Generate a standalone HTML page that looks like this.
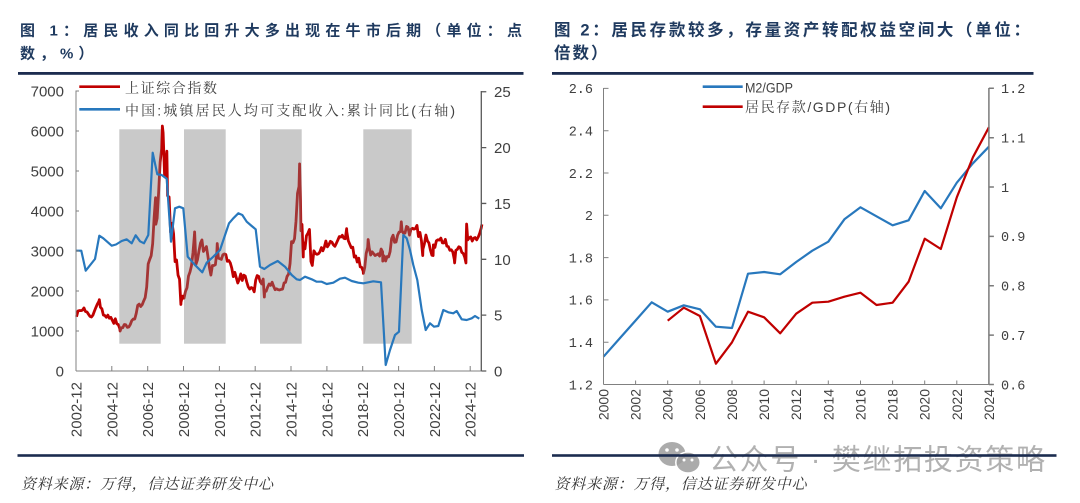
<!DOCTYPE html>
<html><head><meta charset="utf-8">
<style>
html,body{margin:0;padding:0;background:#fff;}
body{width:1080px;height:503px;overflow:hidden;}
svg{display:block;}
.num{font-family:"Liberation Sans",Arial,sans-serif;}
.cjk{font-family:"Liberation Sans","Noto Sans CJK SC",sans-serif;}
.song{font-family:"Liberation Sans","Noto Serif CJK SC",serif;}
</style></head>
<body>
<svg width="1080" height="503" viewBox="0 0 1080 503" xmlns="http://www.w3.org/2000/svg">
<rect width="1080" height="503" fill="#fff"/>

<!-- Titles -->
<g class="cjk" font-weight="700" fill="#1f3a5f" font-size="15">
<text x="20" y="35.5" textLength="502" lengthAdjust="spacing">图 1：居民收入同比回升大多出现在牛市后期（单位：点</text>
<text x="20" y="58.5" letter-spacing="5">数，%）</text>
</g>
<g class="cjk" font-weight="700" fill="#1f3a5f" font-size="16.5">
<text x="554" y="35.5" textLength="476" lengthAdjust="spacing">图 2：居民存款较多，存量资产转配权益空间大（单位：</text>
<text x="554" y="58.5" letter-spacing="2">倍数）</text>
</g>

<!-- top rules -->
<rect x="18" y="72" width="505.5" height="2.8" fill="#1c2c4f"/>
<rect x="552" y="72" width="481.5" height="2.8" fill="#1c2c4f"/>

<!-- ================= LEFT CHART ================= -->
<polyline fill="none" stroke="#c00000" stroke-width="2.8" stroke-linejoin="round" vector-effect="non-scaling-stroke"
 transform="translate(76.5,371) scale(1.4933,-0.04)"
 points="0,1357 1,1500 2,1511 3,1510 4,1521 5,1577 6,1487 7,1476 8,1421 9,1367 10,1349 11,1397 12,1497 13,1590 14,1675 15,1742 15.3,1783 16,1595 17,1555 18,1399 19,1386 20,1342 21,1396 22,1320 23,1341 24,1266 25,1191 26,1306 27,1181 28,1159 29,1060 29.2,998 30,1080 31,1083 32,1162 33,1155 34,1092 35,1099 36,1161 37,1258 38,1299 39,1298 40,1440 41,1641 42,1672 43,1612 44,1658 45,1752 46,1837 47,2099 48,2675 49,2786 50,2881 51,3183 52,3841 52.95,4335 53.15,3670 54,3820 55,4471 56,5218 57,5552 57.5,6124 58,5954 59,4871 60,5262 60.5,5497 61,4383 62,4348 63,3473 64,3693 65,3433 66,2736 67,2775 68,2397 69,2293 69.9,1664 70,1729 71,1871 72,1821 73,1991 74,2082 75,2373 76,2477 77,2633 78,2959 79,3412 79.1,3478 80,2667 81,2779 82,2996 83,3195 84,3277 85,2989 86,3051 87,3110 88,2871 89,2592 90,2398 91,2638 92,2638 93,2656 94,2979 94.25,3186 95,2820 96,2808 97,2791 98,2905 99,2928 100,2911 101,2743 102,2762 103,2701 104,2568 105,2359 106,2468 107,2333 108,2199 109,2292 110,2428 111,2263 112,2397 113,2373 114,2225 115,2103 116,2047 117,2086 118,2069 119,1980 120,2269 121,2385 122,2366 123,2237 124,2178 125,2300 125.8,1849 126,1979 127,1994 128,2098 129,2175 130,2141 131,2220 132,2116 133,2033 134,2056 135,2033 136,2026 137,2039 138,2048 139,2201 140,2217 141,2364 142,2420 143,2683 144,3235 145,3210 146,3310 147,3748 148,4442 149,4612 149.4,5178 150,4277 150.3,3507 151,3664 151.85,2850 152,3206 153,3053 154,3383 155,3445 156,3539 157,2738 157.9,2638 158,2688 159,3004 160,2938 161,2917 162,2930 163,2979 164,3085 165,3005 166,3100 167,3250 168,3104 169,3159 170,3242 171,3223 172,3155 173,3117 174,3192 175,3273 176,3361 177,3349 178,3393 179,3317 180,3307 180.9,3559 181,3481 182,3259 183,3169 184,3082 185,3095 186,2847 187,2876 188,2725 189,2821 190,2603 191,2588 192,2494 192.1,2440 193,2585 194,2941 195,3091 195.3,3288 196,3078 197,2899 198,2979 199,2932 200,2886 201,2905 202,2929 203,2872 204,3050 205,2977 205.1,2746 206,2880 207,2750 208,2860 209,2852 210,2985 211,3310 212,3396 213,3218 214,3225 215,3392 216,3473 217,3483 217.5,3731 218,3509 219,3442 220,3447 221,3615 222,3591 223,3397 224,3544 225,3568 226,3547 227,3564 228,3640 229,3361 230,3463 231,3252 231.85,2886 232,3047 233,3186 234,3399 235,3253 236,3202 237,3024 238,2893 238.8,2886 239,3151 240,3089 241,3256 242,3280 243,3273 244,3323 245,3205 246,3202 247,3291 248,3120 249,3110 250,3018 251,3030 252,2975 253,2789 253.2,2702 254,3015 255,3041 256,3105 257,3087 258,2967 259,2939 260,2842 260.8,2700 261,3336 261.25,3674 262,3279 263,3326 264,3352 265,3250 266,3320 267,3336 268,3279 269,3347 270,3444 271,3573 271.5,3666"/>

<g fill="#7f7f7f" fill-opacity="0.42">
<rect x="119.3" y="129.3" width="41.4" height="214.4"/>
<rect x="184" y="129.3" width="41.7" height="214.4"/>
<rect x="260" y="129.3" width="41.7" height="214.4"/>
<rect x="363.3" y="129.3" width="48.4" height="214.4"/>
</g>

<polyline fill="none" stroke="#2878bd" stroke-width="2.2" stroke-linejoin="round"
 points="76,250.7 81.3,250.7 85.7,270.7 95,259 99.3,235.7 103.3,238.3 111.7,245.7 116,244.5 121.7,241 126.7,239.3 131.7,243.3 135.7,235.3 140,241.3 144,243.3 148.3,235 152.7,152.7 157.3,174.3 161.7,175 166.7,178.7 171,241.7 175,208.3 179.3,206.7 183.3,208.3 187.7,256.7 195,265 202.3,272.3 206.7,262.7 213.3,256.7 220,250 229,223.3 233.3,218.3 238.3,213.3 242.3,215 246.7,221.7 251.7,226 255.7,229.3 260,266.7 264.3,269 270,265 277.7,261 285,266.7 291.7,275 296.7,279.3 300,280 305,276.7 311.7,279.3 316.7,281.7 321.7,281.7 326.7,284 333.3,282.7 340,278.7 345,277.7 351.7,281 358.3,282.7 363.3,283.3 368.3,282.3 373.3,281.3 381,282.3 385.7,365 390,350 395,335 399,331.7 403.3,235 406.7,238.3 410,250 413.3,265 417.3,280 421.7,310 425.7,330 430,323.3 434,326.7 438.3,326 443.3,310 448.3,312.3 453.3,313.3 456.7,311 461.7,319.3 466.7,320 471.7,318.3 475,316 479.3,318.7"/>

<g stroke="#808080" stroke-width="1" fill="none">
<line x1="76" y1="90.5" x2="76" y2="371"/>
<line x1="76" y1="371" x2="481.3" y2="371"/>
<path d="M76 91h3M76 131h3M76 171h3M76 211h3M76 251h3M76 291h3M76 331h3"/>
<path d="M111.8 371v-5M147.7 371v-5M183.5 371v-5M219.4 371v-5M255.2 371v-5M291 371v-5M326.9 371v-5M362.7 371v-5M398.6 371v-5M434.4 371v-5M470.2 371v-5"/>
</g>
<g stroke="#595959" stroke-width="1.3" fill="none">
<line x1="481.3" y1="91" x2="481.3" y2="371"/>
<path d="M481.3 91.75h5M481.3 147.6h5M481.3 203.45h5M481.3 259.3h5M481.3 315.15h5M481.3 371h5"/>
</g>

<g class="num" font-size="15" fill="#404040" text-anchor="end">
<text x="64" y="96.5">7000</text>
<text x="64" y="136.5">6000</text>
<text x="64" y="176.5">5000</text>
<text x="64" y="216.5">4000</text>
<text x="64" y="256.5">3000</text>
<text x="64" y="296.5">2000</text>
<text x="64" y="336.5">1000</text>
<text x="64" y="376.5">0</text>
</g>
<g class="num" font-size="15" fill="#404040">
<text x="494" y="97.2">25</text>
<text x="494" y="153.1">20</text>
<text x="494" y="209">15</text>
<text x="494" y="264.8">10</text>
<text x="494" y="320.6">5</text>
<text x="494" y="376.5">0</text>
</g>
<g class="num" font-size="15" fill="#404040" text-anchor="end">
<text transform="translate(81.5,382) rotate(-90)">2002-12</text>
<text transform="translate(117.3,382) rotate(-90)">2004-12</text>
<text transform="translate(153.2,382) rotate(-90)">2006-12</text>
<text transform="translate(189,382) rotate(-90)">2008-12</text>
<text transform="translate(224.9,382) rotate(-90)">2010-12</text>
<text transform="translate(260.7,382) rotate(-90)">2012-12</text>
<text transform="translate(296.5,382) rotate(-90)">2014-12</text>
<text transform="translate(332.4,382) rotate(-90)">2016-12</text>
<text transform="translate(368.2,382) rotate(-90)">2018-12</text>
<text transform="translate(404.1,382) rotate(-90)">2020-12</text>
<text transform="translate(439.9,382) rotate(-90)">2022-12</text>
<text transform="translate(475.7,382) rotate(-90)">2024-12</text>
</g>

<line x1="79.3" y1="86.7" x2="120" y2="86.7" stroke="#c00000" stroke-width="2.6"/>
<line x1="79.3" y1="109.3" x2="120" y2="109.3" stroke="#2878bd" stroke-width="2.6"/>
<g class="song" font-size="14" fill="#404040">
<text x="125" y="93" textLength="92" lengthAdjust="spacing">上证综合指数</text>
<text x="125" y="115.5" textLength="330" lengthAdjust="spacing">中国:城镇居民人均可支配收入:累计同比(右轴)</text>
</g>

<!-- ================= RIGHT CHART ================= -->
<polyline fill="none" stroke="#2878bd" stroke-width="2.2" stroke-linejoin="round"
 points="603.5,356.7 619.6,338.5 635.6,320.5 651.7,302.3 667.7,311.7 683.8,305.3 699.9,309.3 715.9,326.7 732,328 748,273.7 764.1,272 780.2,274.3 796.2,262 812.3,250.7 828.3,241.7 844.4,219.3 860.5,207.3 876.5,216.3 892.6,225.3 908.6,220.3 924.7,191 940.8,208.3 956.8,182.7 972.9,163.3 988.9,146.7"/>
<polyline fill="none" stroke="#c00000" stroke-width="2.2" stroke-linejoin="round"
 points="667.7,320.7 683.8,307.7 699.9,316 715.9,363.7 732,342.3 748,311.7 764.1,317.3 780.2,333.3 796.2,313.7 812.3,302.7 828.3,301.7 844.4,296.7 860.5,292.7 876.5,305 892.6,302.7 908.6,281.7 924.7,238.7 940.8,249 956.8,197.3 972.9,157.3 988.9,127.3"/>

<g stroke="#808080" stroke-width="1" fill="none">
<line x1="603.5" y1="88" x2="603.5" y2="384.5"/>
<line x1="603.5" y1="384.5" x2="988.9" y2="384.5"/>
<path d="M603.5 88.4h5M603.5 130.7h5M603.5 173h5M603.5 215.3h5M603.5 257.6h5M603.5 299.9h5M603.5 342.2h5"/>
<path d="M635.6 384.5v-4M667.7 384.5v-4M699.9 384.5v-4M732 384.5v-4M764.1 384.5v-4M796.2 384.5v-4M828.3 384.5v-4M860.5 384.5v-4M892.6 384.5v-4M924.7 384.5v-4M956.8 384.5v-4"/>
</g>
<g stroke="#7a7a7a" stroke-width="1.5" fill="none">
<line x1="988.9" y1="88" x2="988.9" y2="384.5"/>
<path d="M988.9 88.3h5M988.9 137.7h5M988.9 187h5M988.9 236.4h5M988.9 285.8h5M988.9 335.1h5M988.9 384.5h5"/>
</g>

<g font-family="'Liberation Mono',monospace" font-size="13.5" fill="#404040" text-anchor="end">
<text x="593" y="93.2">2.6</text>
<text x="593" y="135.5">2.4</text>
<text x="593" y="177.8">2.2</text>
<text x="593" y="220.1">2</text>
<text x="593" y="262.4">1.8</text>
<text x="593" y="304.7">1.6</text>
<text x="593" y="347">1.4</text>
<text x="593" y="389.3">1.2</text>
</g>
<g font-family="'Liberation Mono',monospace" font-size="13.5" fill="#404040">
<text x="1001" y="93.1">1.2</text>
<text x="1001" y="142.5">1.1</text>
<text x="1001" y="191.8">1</text>
<text x="1001" y="241.2">0.9</text>
<text x="1001" y="290.6">0.8</text>
<text x="1001" y="339.9">0.7</text>
<text x="1001" y="389.3">0.6</text>
</g>
<g class="num" font-size="14" fill="#404040" text-anchor="end">
<text transform="translate(608.5,389) rotate(-90)">2000</text>
<text transform="translate(640.6,389) rotate(-90)">2002</text>
<text transform="translate(672.7,389) rotate(-90)">2004</text>
<text transform="translate(704.9,389) rotate(-90)">2006</text>
<text transform="translate(737,389) rotate(-90)">2008</text>
<text transform="translate(769.1,389) rotate(-90)">2010</text>
<text transform="translate(801.2,389) rotate(-90)">2012</text>
<text transform="translate(833.3,389) rotate(-90)">2014</text>
<text transform="translate(865.5,389) rotate(-90)">2016</text>
<text transform="translate(897.6,389) rotate(-90)">2018</text>
<text transform="translate(929.7,389) rotate(-90)">2020</text>
<text transform="translate(961.8,389) rotate(-90)">2022</text>
<text transform="translate(993.9,389) rotate(-90)">2024</text>
</g>

<line x1="702.7" y1="86.7" x2="742.7" y2="86.7" stroke="#2878bd" stroke-width="2.6"/>
<line x1="702.7" y1="106.7" x2="742.7" y2="106.7" stroke="#c00000" stroke-width="2.6"/>
<g class="song" font-size="14" fill="#404040">
<text x="745" y="92.3" textLength="48" lengthAdjust="spacingAndGlyphs">M2/GDP</text>
<text x="745" y="112" textLength="145" lengthAdjust="spacing">居民存款/GDP(右轴)</text>
</g>

<!-- watermark -->
<g fill="#9c9c9c" fill-opacity="0.85">
<ellipse cx="672" cy="454" rx="13.5" ry="12"/>
<ellipse cx="688" cy="462.5" rx="12.2" ry="10.5" stroke="#fff" stroke-width="1.5"/>
</g>
<g fill="#fff">
<circle cx="667" cy="450" r="1.8"/><circle cx="677" cy="450" r="1.8"/>
<circle cx="684" cy="460" r="1.5"/><circle cx="692" cy="460" r="1.5"/>
</g>
<text x="709" y="469.5" class="cjk" font-size="29" fill="#a3a3a3" fill-opacity="0.85" textLength="336" lengthAdjust="spacing">公众号 · 樊继拓投资策略</text>

<rect x="17.5" y="454.2" width="506.5" height="2.6" fill="#1c2c4f"/>
<rect x="552" y="454.2" width="504.5" height="2.6" fill="#1c2c4f"/>

<g class="song" font-size="15" fill="#333" font-style="italic">
<text x="21" y="489" textLength="252" lengthAdjust="spacing">资料来源：万得，信达证券研发中心</text>
<text x="554.5" y="489" textLength="252" lengthAdjust="spacing">资料来源：万得，信达证券研发中心</text>
</g>
</svg>
</body></html>
